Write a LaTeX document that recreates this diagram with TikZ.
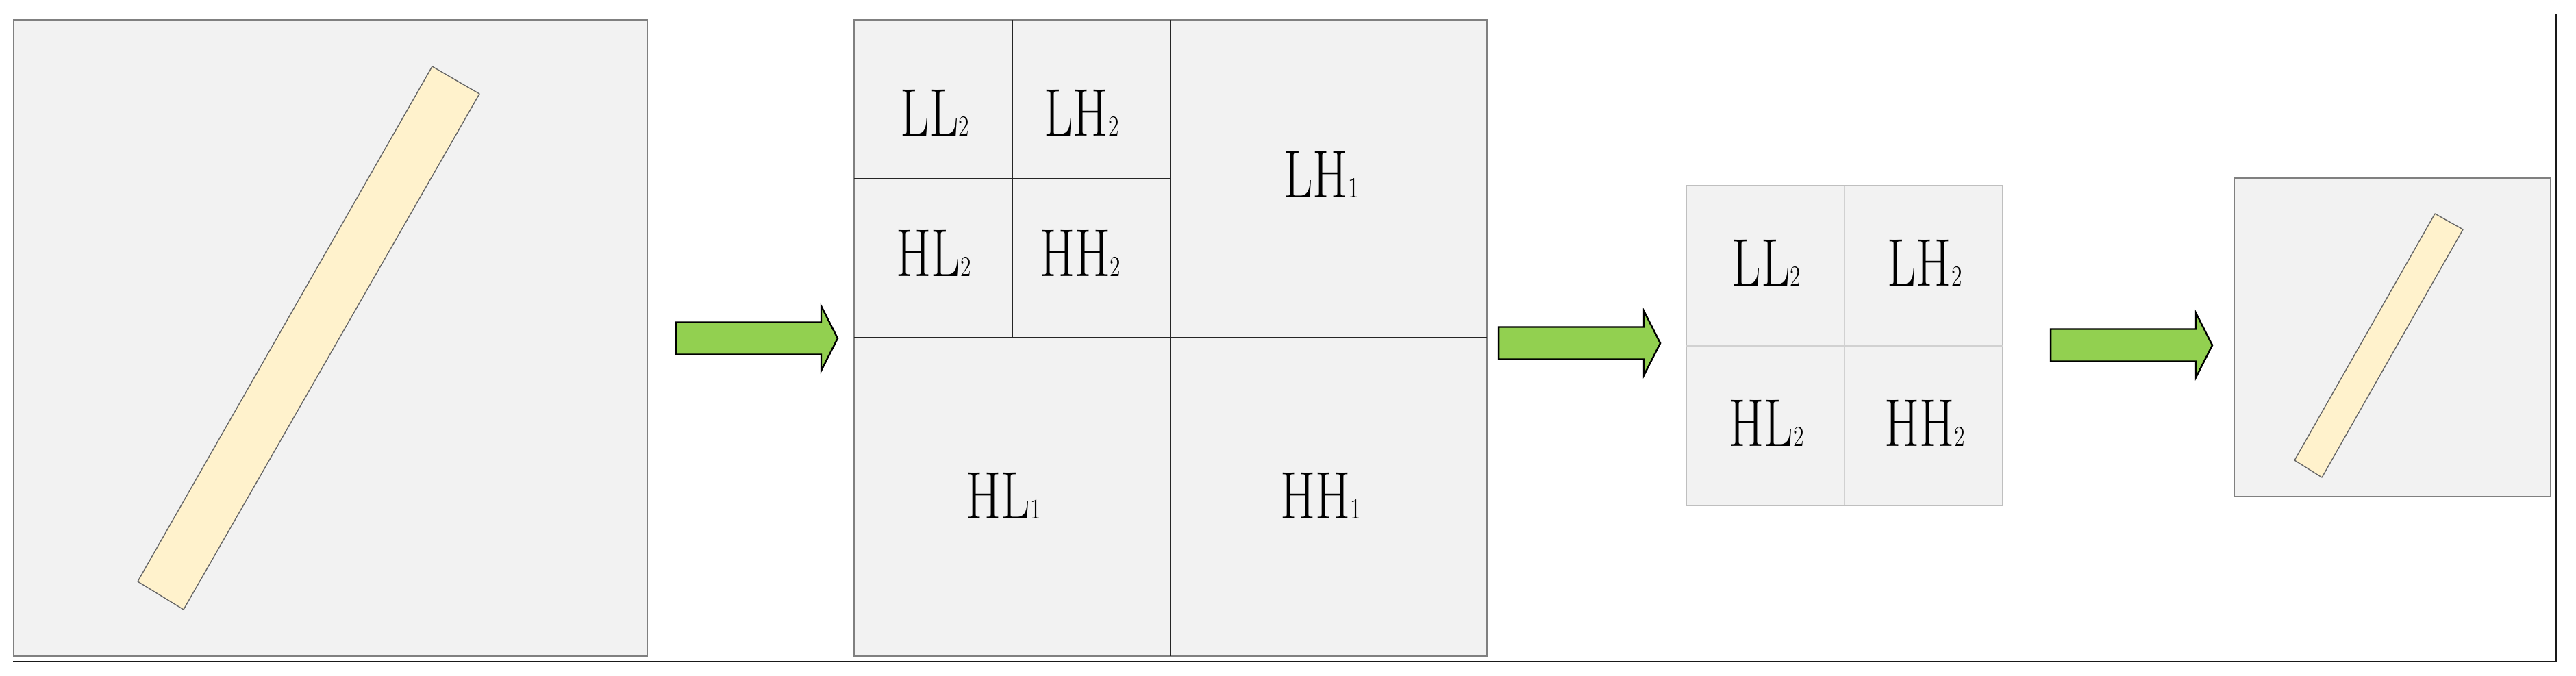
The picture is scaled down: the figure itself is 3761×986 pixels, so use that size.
\documentclass[tikz,border=0pt]{standalone}
\usepackage{graphicx}
\definecolor{panelgray}{HTML}{F2F2F2}
\definecolor{stripyellow}{HTML}{FFF2CC}
\definecolor{arrowgreen}{HTML}{92D050}
\newcommand{\bandlabel}[2]{\scalebox{0.75}[1]{\fontsize{28}{30}\selectfont #1{\fontsize{12}{12}\selectfont #2}}}
\tikzset{
  panel/.style={fill=panelgray, draw=black!50, line width=0.7pt},
  lightpanel/.style={fill=panelgray, draw=black!25, line width=0.6pt},
  strip/.style={fill=stripyellow, draw=black!60, line width=0.4pt, line join=round},
  flowarrow/.style={fill=arrowgreen, draw=black, line width=0.7pt, line join=miter},
  split/.style={draw=black!85, line width=0.6pt},
  lightsplit/.style={draw=black!18, line width=0.5pt},
  band/.style={inner sep=0pt},
}

\begin{document}
\begin{tikzpicture}[x=0.1mm, y=-0.1mm]
	\useasboundingbox (0,0) rectangle (3761,986);
	% define coordinates
	\coordinate (S1) at (20,29);     \coordinate (S2) at (945,958);
	\coordinate (G1) at (1247,29);   \coordinate (G2) at (2171,958);
	\coordinate (K1) at (2462,271);  \coordinate (K2) at (2924,738);
	\coordinate (R1) at (3262,260);  \coordinate (R2) at (3724,725);
	% frame
	\draw[line width=0.6pt, black!90] (19,966) -- (3732,966) -- (3732,21);
	% input image
	\draw[panel] (S1) rectangle (S2);
	\draw[strip] (201,849) -- (631,97) -- (700,137) -- (268,890) -- cycle;
	% two level decomposition
	\draw[panel] (G1) rectangle (G2);
	\draw[split] (1709,29) -- (1709,958);
	\draw[split] (1247,493) -- (2171,493);
	\draw[split] (1478,29) -- (1478,493);
	\draw[split] (1247,261) -- (1709,261);
	\node[band] (ll2) at (1365,165) {\bandlabel{LL}{2}};
	\node[band] (lh2) at (1579,165) {\bandlabel{LH}{2}};
	\node[band] (hl2) at (1363,370) {\bandlabel{HL}{2}};
	\node[band] (hh2) at (1577,370) {\bandlabel{HH}{2}};
	\node[band] (lh1) at (1929,255) {\bandlabel{LH}{1}};
	\node[band] (hl1) at (1465,724) {\bandlabel{HL}{1}};
	\node[band] (hh1) at (1928,724) {\bandlabel{HH}{1}};
	% kept sub-bands
	\draw[lightpanel] (K1) rectangle (K2);
	\draw[lightsplit] (2693,271) -- (2693,738);
	\draw[lightsplit] (2462,505) -- (2924,505);
	\node[band] (kll2) at (2579,384) {\bandlabel{LL}{2}};
	\node[band] (klh2) at (2810,384) {\bandlabel{LH}{2}};
	\node[band] (khl2) at (2579,618) {\bandlabel{HL}{2}};
	\node[band] (khh2) at (2810,618) {\bandlabel{HH}{2}};
	% reconstructed image
	\draw[panel] (R1) rectangle (R2);
	\draw[strip] (3350,672) -- (3555,312) -- (3596,335) -- (3390,697) -- cycle;
	% arrows
	\foreach \x/\y in {987/494, 2188/501, 2994/504}
		\draw[flowarrow] (\x,\y-23.5) -- ++(212,0) -- ++(0,-23.5) -- ++(24,47)
			-- ++(-24,47) -- ++(0,-23.5) -- ++(-212,0) -- cycle;
\end{tikzpicture}
\end{document}
